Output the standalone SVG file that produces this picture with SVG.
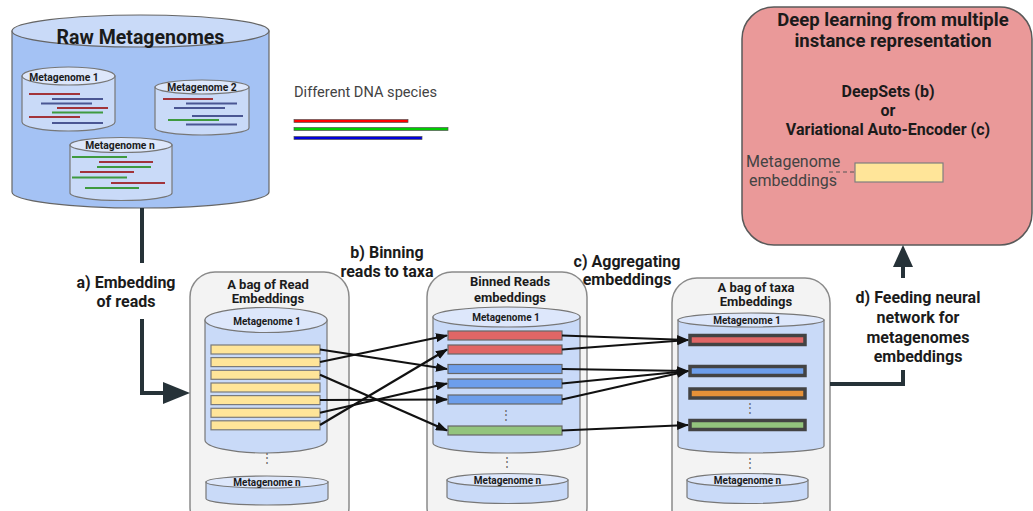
<svg xmlns="http://www.w3.org/2000/svg" width="1033" height="511" viewBox="0 0 1033 511">
<defs>
<style>
.cylBody{fill:#a4c2f4;stroke:#666;stroke-width:1.2}
.cylTop{fill:#c9daf8;stroke:#666;stroke-width:1.2}
.sBody{fill:#c9daf8;stroke:#777;stroke-width:1.2}
.sTop{fill:#dde7fb;stroke:#777;stroke-width:1.2}
.bag{fill:#f3f3f3;stroke:#8a8a8a;stroke-width:1.5}
.t{font-family:Roboto,"Liberation Sans",sans-serif;fill:#1b1b1b;text-anchor:middle;font-weight:bold}
.r{font-family:Roboto,"Liberation Sans",sans-serif;fill:#434343}
.yb{fill:#ffe599;stroke:#7a7a7a;stroke-width:1.2}
.rb{fill:#e06666;stroke:#666;stroke-width:1.2}
.bb{fill:#6d9eeb;stroke:#666;stroke-width:1.2}
.gb{fill:#93c47d;stroke:#666;stroke-width:1.2}
.tb{stroke:#434343;stroke-width:3.5}
.dr{stroke:#a2343a;stroke-width:2}
.db{stroke:#4a5693;stroke-width:2}
.dg{stroke:#3f9a3f;stroke-width:2}
.arr{stroke:#111;stroke-width:2.2;fill:none;marker-end:url(#ah)}
.conn{stroke:#263238;stroke-width:4;fill:none}
.dots{font-family:Roboto,"Liberation Sans",sans-serif;fill:#666;font-size:12px;text-anchor:middle}
</style>
<marker id="ah" markerUnits="userSpaceOnUse" markerWidth="12" markerHeight="9" refX="11" refY="4.5" orient="auto">
<path d="M0,0 L12,4.5 L0,9 Z" fill="#111"/>
</marker>
</defs>

<g id="raw-metagenomes">
<path class="cylBody" d="M12,31 V192 A128.5,16 0 0 0 269,192 V31 Z"/>
<ellipse class="cylTop" cx="140.5" cy="31" rx="128.5" ry="16"/>
<text class="t" x="140.5" y="44" font-size="19.5">Raw Metagenomes</text>
</g>

<g id="raw-metagenome-1">
<path class="sBody" d="M22,76 V122 A46.5,9 0 0 0 115,122 V76 Z"/>
<ellipse class="sTop" cx="68.5" cy="76" rx="46.5" ry="9"/>
<text class="t" x="64" y="81" font-size="10.3">Metagenome 1</text>
<line class="dr" x1="29" y1="94" x2="80" y2="94"/>
<line class="db" x1="52" y1="99" x2="103" y2="99"/>
<line class="db" x1="41" y1="103.5" x2="92" y2="103.5"/>
<line class="dr" x1="57" y1="108" x2="108" y2="108"/>
<line class="dg" x1="52" y1="112.5" x2="103" y2="112.5"/>
<line class="dr" x1="29" y1="117" x2="80" y2="117"/>
<line class="db" x1="52" y1="123" x2="103" y2="123"/>
</g>

<g id="raw-metagenome-2">
<path class="sBody" d="M155,87 V128 A47,7 0 0 0 249,128 V87 Z"/>
<ellipse class="sTop" cx="202" cy="87" rx="47" ry="7"/>
<text class="t" x="202" y="91" font-size="10.3">Metagenome 2</text>
<line class="dr" x1="163" y1="99" x2="213" y2="99"/>
<line class="db" x1="186" y1="103.5" x2="237" y2="103.5"/>
<line class="db" x1="174" y1="108" x2="225" y2="108"/>
<line class="db" x1="192" y1="116" x2="243" y2="116"/>
<line class="dg" x1="168" y1="120" x2="219" y2="120"/>
<line class="db" x1="186" y1="124.5" x2="237" y2="124.5"/>
</g>

<g id="raw-metagenome-n">
<path class="sBody" d="M70,145 V193 A51,7.5 0 0 0 172,193 V145 Z"/>
<ellipse class="sTop" cx="121" cy="145" rx="51" ry="7.5"/>
<text class="t" x="120" y="149" font-size="10.3">Metagenome n</text>
<line class="dg" x1="72" y1="157" x2="127" y2="157"/>
<line class="dr" x1="99" y1="162" x2="153" y2="162"/>
<line class="dg" x1="97" y1="167" x2="151" y2="167"/>
<line class="dr" x1="80" y1="172" x2="134" y2="172"/>
<line class="dg" x1="72" y1="177.5" x2="127" y2="177.5"/>
<line class="dr" x1="111" y1="183" x2="165" y2="183"/>
<line class="dg" x1="85" y1="188" x2="139" y2="188"/>
</g>

<g id="legend">
<text class="r" x="294" y="97" font-size="14.6" fill="#333">Different DNA species</text>
<rect x="294" y="119.5" width="114" height="3" fill="#ff0000" stroke="#555" stroke-width="0.7"/>
<rect x="294" y="127.5" width="154" height="3" fill="#00cc00" stroke="#555" stroke-width="0.7"/>
<rect x="294" y="136.5" width="128" height="3" fill="#0000dd" stroke="#555" stroke-width="0.7"/>
</g>

<g id="deep-learning">
<rect x="742" y="7" width="290" height="238" rx="32" fill="#ea9999" stroke="#595959" stroke-width="1.5"/>
<text class="t" x="893" y="26" font-size="18.5">Deep learning from multiple</text>
<text class="t" x="893" y="47" font-size="18.5">instance representation</text>
<text class="t" x="888" y="97" font-size="16">DeepSets (b)</text>
<text class="t" x="888" y="116" font-size="16">or</text>
<text class="t" x="888" y="135" font-size="16">Variational Auto-Encoder (c)</text>
<text class="r" x="746" y="167" font-size="16">Metagenome</text>
<text class="r" x="749" y="186" font-size="16">embeddings</text>
<line x1="829" y1="172" x2="855" y2="172" stroke="#555" stroke-width="1" stroke-dasharray="4,3"/>
<rect x="855" y="163" width="88" height="19" fill="#ffe599" stroke="#7f7f7f" stroke-width="1.2"/>
</g>

<g id="bag-read-embeddings">
<rect class="bag" x="190" y="272" width="159" height="260" rx="25"/>
<text class="t" x="268" y="289" font-size="13">A bag of Read</text>
<text class="t" x="268" y="303" font-size="13">Embeddings</text>
<path class="sBody" d="M205,320 V440 A61,13 0 0 0 327,440 V320 Z"/>
<ellipse class="sTop" cx="266" cy="320" rx="61" ry="12.5"/>
<text class="t" x="267" y="325" font-size="10">Metagenome 1</text>
<rect class="yb" x="211" y="345" width="109" height="9"/>
<rect class="yb" x="211" y="357.6" width="109" height="9"/>
<rect class="yb" x="211" y="370.3" width="109" height="9"/>
<rect class="yb" x="211" y="383" width="109" height="9"/>
<rect class="yb" x="211" y="395.6" width="109" height="9"/>
<rect class="yb" x="211" y="408.3" width="109" height="9"/>
<rect class="yb" x="211" y="420.8" width="109" height="9"/>
<text class="dots" x="267" y="462">⋮</text>
<path class="sBody" d="M206,482 V498.5 A61,6.5 0 0 0 328,498.5 V482 Z"/>
<ellipse class="sTop" cx="267" cy="482" rx="61" ry="6"/>
<text class="t" x="267" y="486" font-size="10">Metagenome n</text>
</g>

<g id="bag-binned-reads">
<rect class="bag" x="427" y="272" width="160" height="260" rx="25"/>
<text class="t" x="510" y="286" font-size="13">Binned Reads</text>
<text class="t" x="510" y="302" font-size="13">embeddings</text>
<path class="sBody" d="M433,317 V443 A73.5,10 0 0 0 580,443 V317 Z"/>
<ellipse class="sTop" cx="506.5" cy="317" rx="73.5" ry="10"/>
<text class="t" x="506" y="321" font-size="10">Metagenome 1</text>
<rect class="rb" x="448" y="331" width="114" height="9"/>
<rect class="rb" x="448" y="345" width="114" height="9"/>
<rect class="bb" x="448" y="364.5" width="114" height="9"/>
<rect class="bb" x="448" y="379" width="114" height="9"/>
<rect class="bb" x="448" y="395" width="114" height="9"/>
<text class="dots" x="506" y="419">⋮</text>
<rect class="gb" x="448" y="426" width="114" height="9"/>
<text class="dots" x="507" y="466">⋮</text>
<path class="sBody" d="M447,480 V497 A60.5,6.5 0 0 0 568,497 V480 Z"/>
<ellipse class="sTop" cx="507.5" cy="480" rx="60.5" ry="6.5"/>
<text class="t" x="507.5" y="484" font-size="10">Metagenome n</text>
</g>

<g id="bag-taxa-embeddings">
<rect class="bag" x="672" y="278" width="158" height="260" rx="25"/>
<text class="t" x="756" y="292" font-size="13">A bag of taxa</text>
<text class="t" x="756" y="306" font-size="13">Embeddings</text>
<path class="sBody" d="M678,320 V446 A73,7 0 0 0 824,446 V320 Z"/>
<ellipse class="sTop" cx="751" cy="320" rx="73" ry="7"/>
<text class="t" x="747" y="324" font-size="10">Metagenome 1</text>
<rect class="rb tb" x="690" y="335.5" width="115" height="9"/>
<rect class="bb tb" x="690" y="366.5" width="115" height="9"/>
<rect style="fill:#e69138" class="tb" x="690" y="389" width="115" height="9"/>
<text class="dots" x="750" y="412">⋮</text>
<rect class="gb tb" x="690" y="420.5" width="115" height="9"/>
<text class="dots" x="750" y="467">⋮</text>
<path class="sBody" d="M687,480 V497 A60.5,6.5 0 0 0 808,497 V480 Z"/>
<ellipse class="sTop" cx="747.5" cy="480" rx="60.5" ry="6.5"/>
<text class="t" x="747.5" y="484" font-size="10">Metagenome n</text>
</g>

<g id="connectors">
<path class="conn" d="M142,208 V263"/>
<path class="conn" d="M142,319 V393 H166"/>
<path d="M163,382 L190,393 L163,404 Z" fill="#263238"/>
<path class="conn" d="M830,384 H903 V370"/>
<path class="conn" d="M903,278 V262"/>
<path d="M893,267 L903,245 L913,267 Z" fill="#263238"/>

<line class="arr" x1="320" y1="349.5" x2="447" y2="369"/>
<line class="arr" x1="320" y1="362" x2="447" y2="335.5"/>
<line class="arr" x1="320" y1="374.8" x2="447" y2="430.5"/>
<line class="arr" x1="320" y1="400" x2="447" y2="399.5"/>
<line class="arr" x1="320" y1="412.8" x2="447" y2="383.5"/>
<line class="arr" x1="320" y1="425" x2="447" y2="349.5"/>

<line class="arr" x1="562" y1="335.5" x2="688" y2="340"/>
<line class="arr" x1="562" y1="349.5" x2="688" y2="340"/>
<line class="arr" x1="562" y1="369" x2="688" y2="371"/>
<line class="arr" x1="562" y1="383.5" x2="688" y2="371"/>
<line class="arr" x1="562" y1="399.5" x2="688" y2="371"/>
<line class="arr" x1="562" y1="430.5" x2="688" y2="425"/>
</g>

<g id="labels">
<text class="t" x="126" y="288" font-size="16">a) Embedding</text>
<text class="t" x="126" y="307" font-size="16">of reads</text>
<text class="t" x="387" y="258" font-size="16">b) Binning</text>
<text class="t" x="387" y="277" font-size="16">reads to taxa</text>
<text class="t" x="627" y="267" font-size="16">c) Aggregating</text>
<text class="t" x="627" y="285" font-size="16">embeddings</text>
<text class="t" x="918" y="303" font-size="16">d) Feeding neural</text>
<text class="t" x="918" y="323" font-size="16">network for</text>
<text class="t" x="918" y="343" font-size="16">metagenomes</text>
<text class="t" x="918" y="362" font-size="16">embeddings</text>
</g>
</svg>
